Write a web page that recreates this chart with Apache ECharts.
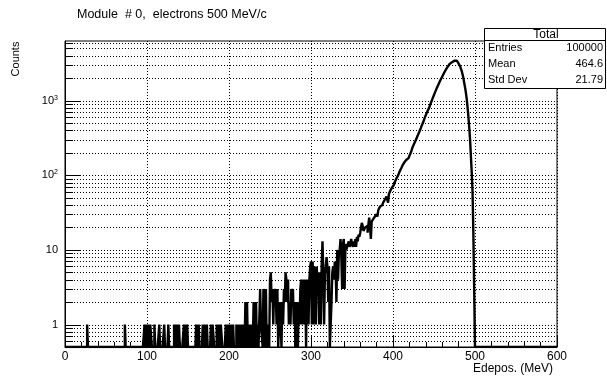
<!DOCTYPE html>
<html>
<head>
<meta charset="utf-8">
<script src="https://cdn.jsdelivr.net/npm/echarts@6/dist/echarts.min.js"></script>
<style>
  html, body { margin: 0; padding: 0; background: #fff; }
  #main { width: 607px; height: 376px; }
</style>
</head>
<body>
<div id="main"></div>
<script>
// histogram: 1 MeV bins from 0 to 600
var binWidth = 1;
var nBins = 600;

// sparse low-energy tail, [bin, counts]
var sparseBins = [
    [27,1],[73,1],[97,1],[99,1],[100,1],[102,1],[104,1],[105,1],[109,1],[115,1],[121,1],[126,1],
    [133,1],[135,1],[137,1],[139,1],[145,1],[147,1],[149,1],
    [160,1],[161,1],[163,1],[168,1],[170,1],[171,1],[173,1],[178,1],[180,1],[181,1],
    [185,1],[188,1],[190,1],[191,1],[196,1],[198,1],[200,1],[201,1],[203,1],[205,1],
    [209,1],[211,1],[212,1],[214,1],[216,1],[218,1],
    [220,2],[222,2],[224,1],[226,1],[228,1],[230,2],[231,1],[233,2],[235,1],
    [238,3],[239,1],[240,1],[242,3],[243,2],[245,3],[247,1],[248,1],
    [250,4],[251,5],[252,2],[253,3],[254,1],[255,3],[256,2],[257,3],[258,1],[259,3],
    [261,1],[262,2],[263,1],[265,2],[266,1],[267,3],[268,2],[269,5],
    [270,4],[271,2],[272,4],[273,1],[274,2],[275,1],[276,3],[277,2],[278,3],[279,1]
];

// dense part, bins 280 .. 499
var denseStart = 280;
var denseCounts = [
    2, 0, 2, 1, 0, 2, 1, 3, 4, 1,
    3, 4, 1, 4, 0, 4, 3, 1, 4, 6,
    7, 1, 7, 1, 4, 6, 1, 6, 3, 5,
    1, 5, 1, 6, 13, 5, 1, 5, 6, 8,
    6, 2, 6, 0, 0, 2, 5, 6, 4, 7,
    6, 2, 10, 4, 9, 10, 14, 8, 3, 12,
    14, 3, 12, 10, 11, 12, 13, 11, 12, 14,
    12, 11, 13, 11, 14, 11, 15, 13, 16, 15,
    17, 20, 23, 21, 18, 19, 20, 19, 21, 17,
    22, 27, 20, 14, 24, 25, 26, 25, 28, 27,
    30, 28, 34, 32, 38, 36, 40, 42, 43, 45,
    47, 46, 52, 50, 43, 56, 58, 63, 66, 69,
    71, 74, 80, 85, 90, 94, 98, 104, 112, 116,
    124, 130, 138, 142, 150, 152, 160, 166, 170, 176,
    182, 192, 205, 222, 240, 252, 268, 282, 300, 318,
    338, 358, 380, 405, 432, 462, 480, 520, 560, 600,
    640, 675, 720, 760, 800, 860, 920, 980, 1050, 1120,
    1190, 1270, 1350, 1440, 1520, 1610, 1700, 1800, 1900, 2000,
    2100, 2210, 2320, 2440, 2550, 2660, 2770, 2880, 3000, 3100,
    3200, 3280, 3350, 3400, 3440, 3450, 3440, 3420, 3360, 3250,
    3150, 3000, 2850, 2650, 2450, 2200, 1960, 1700, 1480, 1250,
    1030, 800, 600, 430, 300, 180, 110, 60, 17, 3
];

var statLabels = ['Entries', 'Mean', 'Std Dev'];
var statValues = ['100000', '464.6', '21.79'];

var yMin = 0.5, yMax = 6300;
var fontFam = '"Liberation Sans", Arial, sans-serif';

// assemble the bin contents
var counts = [];
for (var i = 0; i < nBins; i++) counts.push(0);
sparseBins.forEach(function (b) { counts[b[0]] = b[1]; });
denseCounts.forEach(function (c, k) { counts[denseStart + k] = c; });

// step line points at lower bin edges; empty bins drop to the frame
var histData = [];
for (var i = 0; i < nBins; i++) {
    histData.push([i * binWidth, counts[i] > 0 ? counts[i] : yMin]);
}
histData.push([nBins * binWidth, yMin]);

// log axis tick/grid positions (ROOT style: every 1..9 x 10^n)
var yTicks = [];
[-1, 0, 1, 2, 3].forEach(function (e) {
    for (var m = 1; m <= 9; m++) {
        var v = m * Math.pow(10, e);
        if (v >= yMin && v <= yMax) yTicks.push([0, v, m === 1 ? 1 : 0]);
    }
});

var dom = document.getElementById('main');
var myChart = echarts.init(dom, null, { renderer: 'canvas' });

var option = {
    animation: false,
    backgroundColor: '#fff',
    grid: {
        left: 65, top: 41, right: 50, bottom: 29,
        show: true, borderColor: '#000', borderWidth: 1, backgroundColor: 'transparent'
    },
    xAxis: {
        type: 'value',
        min: 0, max: 600, interval: 100,
        axisLine: { lineStyle: { color: '#000', width: 1 } },
        axisTick: { inside: true, length: 11, lineStyle: { color: '#000' } },
        minorTick: { show: true, splitNumber: 5, length: 5, lineStyle: { color: '#000' } },
        axisLabel: { color: '#000', fontSize: 12, fontFamily: fontFam, margin: 4 },
        splitLine: { show: true, lineStyle: { color: '#000', width: 1, type: [1, 2] } }
    },
    yAxis: {
        type: 'log',
        logBase: 10,
        min: yMin, max: yMax,
        axisLine: { lineStyle: { color: '#000', width: 1 } },
        axisTick: { show: false },
        splitLine: { show: false },
        axisLabel: {
            color: '#000', fontSize: 11, fontFamily: fontFam, margin: 7,
            formatter: function (v) {
                var e = Math.log(v) / Math.LN10;
                var r = Math.round(e);
                if (Math.abs(e - r) > 1e-6) return '';
                if (r === 0) return '1';
                if (r === 1) return '10';
                return '10{sup|' + r + '}';
            },
            rich: {
                sup: { fontSize: 7, fontFamily: fontFam, color: '#000', verticalAlign: 'top', padding: [0, 0, 6, 0] }
            }
        }
    },
    series: [
        {
            // dotted grid + inward ticks on the log axis
            type: 'custom',
            silent: true,
            z: 1,
            encode: { x: 0, y: 1 },
            data: yTicks,
            renderItem: function (params, api) {
                var v = api.value(1);
                var p0 = api.coord([0, v]);
                var p1 = api.coord([600, v]);
                var y = Math.round(p0[1]) + 0.5;
                var len = api.value(2) ? 16 : 8;
                return {
                    type: 'group',
                    children: [
                        { type: 'line', shape: { x1: p0[0], y1: y, x2: p1[0], y2: y },
                          style: { stroke: '#000', lineWidth: 1, lineDash: [1, 2] } },
                        { type: 'line', shape: { x1: p0[0], y1: y, x2: p0[0] + len, y2: y },
                          style: { stroke: '#000', lineWidth: 1 } }
                    ]
                };
            }
        },
        {
            name: 'Total',
            type: 'line',
            step: 'end',
            symbol: 'none',
            z: 3,
            lineStyle: { color: '#000', width: 2.4 },
            data: histData
        }
    ],
    graphic: [
        { type: 'text', left: 77, top: 8,
          style: { text: 'Module  # 0,  electrons 500 MeV/c', font: '12.5px ' + fontFam, fill: '#000' } },
        { type: 'text', x: 16, y: 59, rotation: Math.PI / 2,
          style: { text: 'Counts', font: '11px ' + fontFam, fill: '#000', align: 'center', verticalAlign: 'middle' } },
        { type: 'text', x: 553, y: 369,
          style: { text: 'Edepos. (MeV)', font: '12px ' + fontFam, fill: '#000', align: 'right', verticalAlign: 'middle' } },
        // stats box
        { type: 'rect', z: 10, shape: { x: 484.5, y: 28.5, width: 121, height: 60 },
          style: { fill: '#fff', stroke: '#000', lineWidth: 1 } },
        { type: 'line', z: 11, shape: { x1: 484.5, y1: 40.5, x2: 605.5, y2: 40.5 },
          style: { stroke: '#000', lineWidth: 1 } },
        { type: 'text', z: 11, x: 546, y: 34.5,
          style: { text: 'Total', font: '12px ' + fontFam, fill: '#000', align: 'center', verticalAlign: 'middle' } }
    ].concat(statLabels.map(function (s, k) {
        return { type: 'text', z: 11, x: 488, y: 48 + k * 16,
                 style: { text: s, font: '11px ' + fontFam, fill: '#000', align: 'left', verticalAlign: 'middle' } };
    })).concat(statValues.map(function (s, k) {
        return { type: 'text', z: 11, x: 603, y: 48 + k * 16,
                 style: { text: s, font: '11px ' + fontFam, fill: '#000', align: 'right', verticalAlign: 'middle' } };
    }))
};

if (option && typeof option === 'object') {
    myChart.setOption(option, true);
}
</script>
</body>
</html>
